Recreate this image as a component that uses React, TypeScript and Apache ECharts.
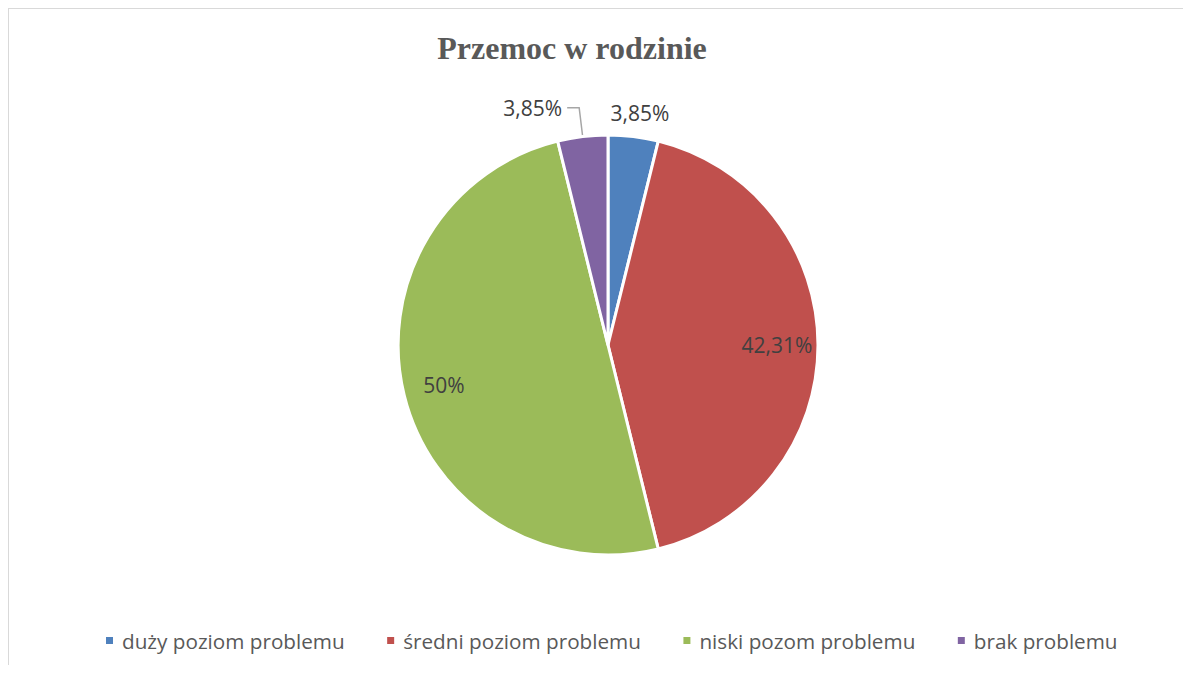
import React, { useEffect, useRef } from "react";
import * as echarts from "echarts";

const titleText = "Przemoc w rodzinie";
const categories = [
  "duży poziom problemu",
  "średni poziom problemu",
  "niski pozom problemu",
  "brak problemu",
];
const values = [3.85, 42.31, 50, 3.85];
const colors = ["#4F81BD", "#C0504D", "#9BBB59", "#8064A2"];
const insideLabelIdx = [1, 2];

const fmt = (v: number) => String(v).replace(".", ",") + "%";

export default function App() {
  const ref = useRef<HTMLDivElement>(null);
  useEffect(() => {
    if (!ref.current) return;
    const chart = echarts.init(ref.current, null, { renderer: "svg" });
    const R = 210;
    const center = [599, 336];
    const labelFont = {
      fontFamily: "Open Sans",
      fontSize: 21,
      color: "#404040",
    };
    chart.setOption({
      animation: false,
      backgroundColor: "#ffffff",
      title: {
        text: titleText,
        left: 558,
        top: 18,
        textAlign: "center",
        textStyle: {
          fontFamily: "Liberation Serif",
          fontWeight: "bold",
          fontSize: 32,
          color: "#595959",
        },
      },
      legend: {
        left: 90,
        top: 616,
        itemWidth: 9,
        itemHeight: 9,
        itemGap: 40.5,
        icon: "rect",
        data: categories.map((c, i) => ({ name: c, itemStyle: { color: colors[i] } })),
        textStyle: {
          fontFamily: "Open Sans",
          fontSize: 20.7,
          color: "#595959",
          padding: [0, 0, 0, 3],
        },
      },
      series: [
        {
          type: "pie",
          center,
          radius: [0, R],
          startAngle: 90,
          clockwise: true,
          z: 2,
          itemStyle: { borderColor: "#ffffff", borderWidth: 3 },
          data: categories.map((c, i) => ({
            name: c,
            value: values[i],
            itemStyle: { color: colors[i] },
            label: {
              show: !insideLabelIdx.includes(i),
              position: "outside",
              formatter: fmt(values[i]),
              ...labelFont,
            },
            labelLine:
              i === 0
                ? { show: false, length: 13, length2: 0 }
                : {
                    show: true,
                    length: 29,
                    length2: 12,
                    lineStyle: { color: "#a6a6a6", width: 1.5 },
                  },
          })),
          labelLayout: (params: any) =>
            params.dataIndex === 0 ? { align: "center", verticalAlign: "bottom" } : {},
          emphasis: { disabled: true },
        },
        {
          type: "pie",
          center,
          radius: [R * 0.56, R * 1.02],
          startAngle: 90,
          clockwise: true,
          silent: true,
          z: 3,
          itemStyle: { color: "rgba(0,0,0,0)", borderWidth: 0 },
          data: categories.map((c, i) => ({
            name: c,
            value: values[i],
            label: {
              show: insideLabelIdx.includes(i),
              position: "inside",
              formatter: fmt(values[i]),
              ...labelFont,
            },
          })),
          labelLine: { show: false },
          emphasis: { disabled: true },
        },
      ],
    });
    return () => chart.dispose();
  }, []);
  return (
    <div
      ref={ref}
      style={{
        width: 1175,
        height: 657,
        boxSizing: "border-box",
        borderTop: "1px solid #d9d9d9",
        borderLeft: "1px solid #d9d9d9",
      }}
    />
  );
}
